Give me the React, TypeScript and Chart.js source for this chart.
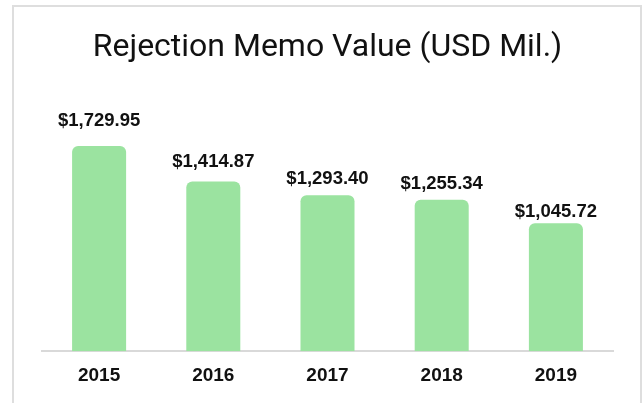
import React, { useEffect, useRef } from "react";
import { Chart, registerables } from "chart.js";

Chart.register(...registerables);

const categories = ["2015", "2016", "2017", "2018", "2019"];
const values = [1729.95, 1414.87, 1293.4, 1255.34, 1045.72];
const titleText = "Rejection Memo Value (USD Mil.)";
const yMin = -86;
const yMax = 2160;
const labelMin = 36;
const labelMax = 1941;

const fmt = (v: number) =>
  "$" + v.toLocaleString("en-US", { minimumFractionDigits: 2, maximumFractionDigits: 2 });

const valueLabels = {
  id: "valueLabels",
  afterDatasetsDraw(chart: any) {
    const ctx = chart.ctx;
    const meta = chart.getDatasetMeta(0);
    const ls = chart.scales.yLabel;
    ctx.save();
    ctx.font = "bold 18.5px 'Liberation Sans', Arial, sans-serif";
    ctx.fillStyle = "#111111";
    ctx.textAlign = "center";
    ctx.textBaseline = "alphabetic";
    meta.data.forEach((el: any, i: number) => {
      ctx.fillText(fmt(values[i]), el.x, ls.getPixelForValue(values[i]));
    });
    ctx.restore();
  },
};

export default function App() {
  const ref = useRef<HTMLCanvasElement>(null);
  useEffect(() => {
    if (!ref.current) return;
    const chart = new Chart(ref.current, {
      type: "bar",
      data: {
        labels: categories,
        datasets: [
          {
            data: values,
            base: yMin,
            backgroundColor: "#9be3a0",
            borderRadius: 6,
            borderSkipped: "start",
            categoryPercentage: 0.473,
            barPercentage: 1,
          } as any,
        ],
      },
      options: {
        animation: false,
        responsive: true,
        maintainAspectRatio: false,
        layout: { padding: { left: 28, right: 27, top: 0, bottom: 3 } },
        plugins: {
          legend: { display: false },
          tooltip: { enabled: false },
          title: {
            display: true,
            text: titleText,
            color: "#111111",
            font: { family: "Roboto", size: 32, weight: "normal", lineHeight: 1.2 },
            padding: { top: 22, bottom: 30 },
          },
        },
        scales: {
          x: {
            grid: { display: false, drawTicks: false },
            border: { display: true, color: "#d9d9d9", width: 2 },
            ticks: {
              color: "#111111",
              padding: 13,
              font: { family: "'Liberation Sans', Arial, sans-serif", size: 19, weight: "bold" },
            },
          },
          y: {
            display: false,
            min: yMin,
            max: yMax,
          },
          yLabel: {
            type: "linear",
            position: "left",
            display: false,
            min: labelMin,
            max: labelMax,
          },
        },
      },
      plugins: [valueLabels],
    });
    return () => chart.destroy();
  }, []);

  return (
    <div
      style={{
        position: "absolute",
        left: 12,
        top: 5,
        width: 630,
        height: 410,
        border: "2px solid #dedede",
        boxSizing: "border-box",
        background: "#fff",
      }}
    >
      <div style={{ position: "relative", width: 626, height: 396 }}>
        <canvas ref={ref} />
      </div>
    </div>
  );
}
